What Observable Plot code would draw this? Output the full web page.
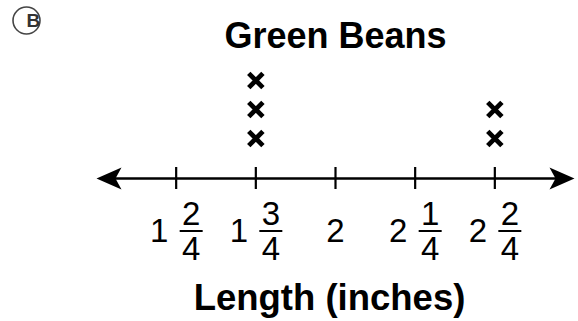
<!DOCTYPE html>
<html><head><meta charset="utf-8">
<script src="https://cdn.jsdelivr.net/npm/d3@7"></script>
<script src="https://cdn.jsdelivr.net/npm/@observablehq/plot@0.6"></script>
<style>body{margin:0;background:#fff} svg{display:block}</style>
</head><body><div id="chart"></div>
<script>
const title = "Green Beans";
const xLabel = "Length (inches)";
const optionLetter = "B";
const lengths = [1.75, 1.75, 1.75, 2.5, 2.5];
const tickValues = [1.5, 1.75, 2, 2.25, 2.5];
const tickWhole = ["1", "1", "2", "2", "2"];
const tickNum = ["2", "3", "", "1", "2"];
const tickDen = ["4", "4", "", "4", "4"];
const lineExtent = [1.25, 2.75];

const idx = tickValues.map((d, i) => i);
const isMixed = i => tickNum[i] !== "";
const font = "Liberation Sans, Arial, Helvetica, sans-serif";

const arrowHead = {draw(ctx) {
  ctx.moveTo(0, 0); ctx.lineTo(-25, -11); ctx.lineTo(-19, 0); ctx.lineTo(-25, 11); ctx.closePath();
}};
const fracBar = {draw(ctx) { ctx.moveTo(-11.5, 0); ctx.lineTo(11.5, 0); }};

const chart = Plot.plot({
  width: 578,
  height: 321,
  marginLeft: 96,
  marginRight: 4,
  marginTop: 167,
  marginBottom: 132,
  x: {domain: lineExtent, axis: null},
  y: {domain: [0, 3], range: [167, 80], axis: null},
  style: {fontFamily: font, color: "black", background: "white"},
  marks: [
    // number line
    Plot.ruleY([0], {dy: 11, stroke: "black", strokeWidth: 2.4, insetLeft: 8, insetRight: 8}),
    Plot.dot(lineExtent, {x: d => d, symbol: arrowHead, r: 5, fill: "black", stroke: "none",
      rotate: d => d === lineExtent[0] ? 180 : 0}),
    Plot.ruleX(tickValues, {x: d => d, stroke: "black", strokeWidth: 2.2}),
    // tick labels
    Plot.text(idx, {filter: i => !isMixed(i), x: i => tickValues[i], text: i => tickWhole[i],
      dy: 53, fontSize: 33, lineAnchor: "middle"}),
    Plot.text(idx, {filter: isMixed, x: i => tickValues[i], text: i => tickWhole[i],
      dx: -17, dy: 53, fontSize: 33, lineAnchor: "middle"}),
    Plot.text(idx, {filter: isMixed, x: i => tickValues[i], text: i => tickNum[i],
      dx: 15, dy: 36, fontSize: 33, lineAnchor: "middle"}),
    Plot.dot(idx, {filter: isMixed, x: i => tickValues[i], symbol: fracBar, r: 5,
      dx: 15, dy: 52.5, stroke: "black", strokeWidth: 2}),
    Plot.text(idx, {filter: isMixed, x: i => tickValues[i], text: i => tickDen[i],
      dx: 15, dy: 71, fontSize: 33, lineAnchor: "middle"}),
    // data
    Plot.dot(lengths, Plot.stackY2({x: d => d, y: () => 1, symbol: "times", r: 6.5,
      stroke: "black", strokeWidth: 4.8})),
    // titles
    Plot.text([title], {frameAnchor: "middle", dy: -142.5, fontSize: 36, fontWeight: "bold",
      text: d => d, lineAnchor: "middle"}),
    Plot.text([xLabel], {frameAnchor: "middle", dx: -6, dy: 120, fontSize: 36.5, fontWeight: "bold",
      text: d => d, lineAnchor: "middle"}),
    // option marker
    Plot.dot([optionLetter], {frameAnchor: "top-left", dx: -70, dy: -147, r: 13.5,
      stroke: "#444", strokeWidth: 1.6, fill: "white"}),
    Plot.text([optionLetter], {frameAnchor: "top-left", dx: -70, dy: -147, text: d => d,
      fontSize: 19, fontWeight: "bold", fill: "#333", lineAnchor: "middle"})
  ]
});
document.getElementById("chart").append(chart);
</script>
</body></html>
